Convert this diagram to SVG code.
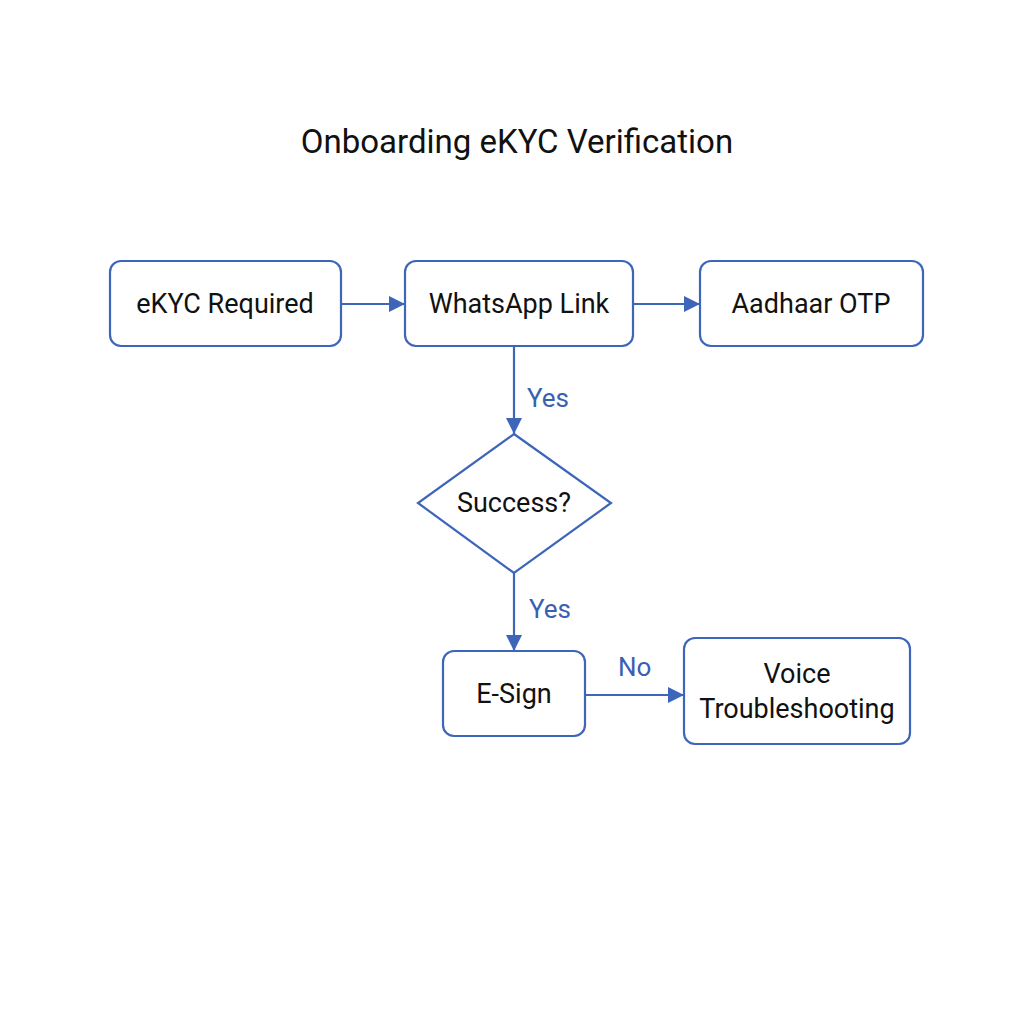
<svg xmlns="http://www.w3.org/2000/svg" width="1024" height="1024" viewBox="0 0 1024 1024">
<defs>
<style>
.node{fill:#fff;stroke:#3d65b9;stroke-width:2.2}
.t{font-family:Roboto,"Liberation Sans",sans-serif;font-size:27px;fill:#111;text-anchor:middle;dominant-baseline:central}
.lbl{font-family:Roboto,"Liberation Sans",sans-serif;font-size:26px;fill:#3a5fb3;text-anchor:start;dominant-baseline:central}
.edge{stroke:#3d65b9;stroke-width:2.2;fill:none}
</style>
<marker id="ah" viewBox="0 0 10 10" refX="10" refY="5" markerWidth="16" markerHeight="16" markerUnits="userSpaceOnUse" orient="auto">
<path d="M0,0 L10,5 L0,10 z" fill="#3d65b9"/>
</marker>
</defs>
<rect width="1024" height="1024" fill="#fff"/>
<text x="517" y="141" font-family="Roboto,'Liberation Sans',sans-serif" font-size="33" fill="#111" text-anchor="middle" dominant-baseline="central">Onboarding eKYC Verification</text>
<g id="connectors">
<line class="edge" x1="341" y1="304" x2="405" y2="304" marker-end="url(#ah)"/>
<line class="edge" x1="633" y1="304" x2="700" y2="304" marker-end="url(#ah)"/>
<line class="edge" x1="514" y1="346" x2="514" y2="434" marker-end="url(#ah)"/>
<line class="edge" x1="514" y1="573" x2="514" y2="651" marker-end="url(#ah)"/>
<line class="edge" x1="585" y1="695" x2="684" y2="695" marker-end="url(#ah)"/>
<text class="lbl" x="527" y="398">Yes</text>
<text class="lbl" x="529" y="609">Yes</text>
<text class="lbl" x="618" y="667">No</text>
</g>
<g id="n1"><rect class="node" x="110" y="261" width="231" height="85" rx="11"/><text class="t" x="225" y="304">eKYC Required</text></g>
<g id="n2"><rect class="node" x="405" y="261" width="228" height="85" rx="11"/><text class="t" x="519" y="304">WhatsApp Link</text></g>
<g id="n3"><rect class="node" x="700" y="261" width="223" height="85" rx="11"/><text class="t" x="811" y="304">Aadhaar OTP</text></g>
<g id="n4"><polygon class="node" points="514,434 611,503 514,573 418,503"/><text class="t" x="514" y="503">Success?</text></g>
<g id="n5"><rect class="node" x="443" y="651" width="142" height="85" rx="11"/><text class="t" x="514" y="694">E-Sign</text></g>
<g id="n6"><rect class="node" x="684" y="638" width="226" height="106" rx="11"/><text class="t" x="797" y="674">Voice</text><text class="t" x="797" y="709">Troubleshooting</text></g>
</svg>
